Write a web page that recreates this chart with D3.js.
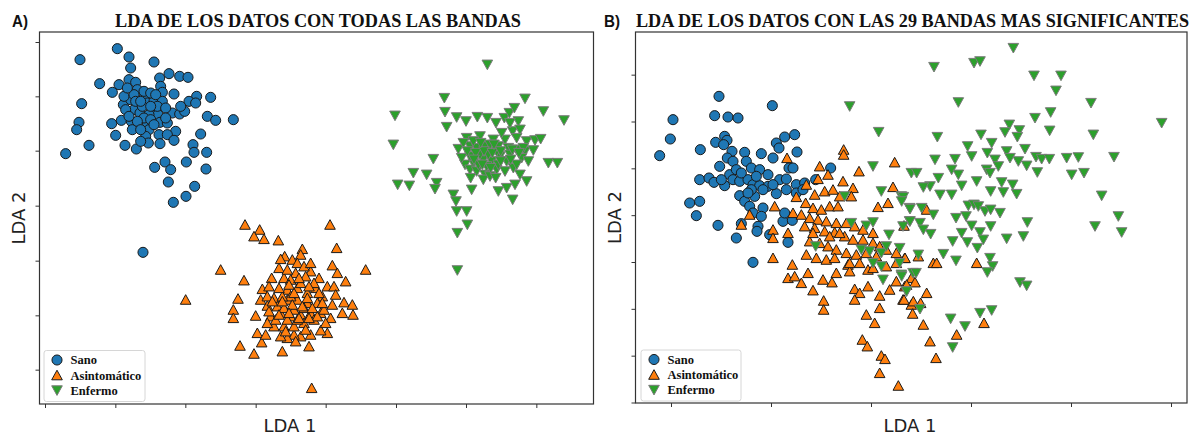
<!DOCTYPE html>
<html>
<head>
<meta charset="utf-8">
<script src="https://cdn.jsdelivr.net/npm/d3@7"></script>
<style>
  body { margin: 0; background: #fff; }
  svg { display: block; }
</style>
</head>
<body>
<div id="chart"></div>
<script>
// LDA projections, [LDA 1, LDA 2]

// ---- panel A: all bands
const sanoA = [[2.50,-0.47],[1.38,-0.80],[2.85,-0.72],[3.60,-0.87],[2.90,-1.05],[1.97,-1.52],[2.55,-1.55],[2.35,-1.78],[2.85,-1.40],[3.05,-1.48],[3.77,-1.35],[4.05,-1.22],[4.37,-1.30],[4.62,-1.33],[3.80,-1.60],[3.85,-1.78],[4.20,-1.83],[4.88,-1.90],[5.30,-1.93],[1.43,-2.12],[2.68,-2.15],[2.90,-2.00],[3.30,-1.95],[3.40,-2.10],[3.60,-2.05],[3.85,-2.05],[4.65,-2.05],[4.85,-2.10],[3.00,-2.30],[3.18,-2.40],[3.55,-2.30],[3.72,-2.45],[4.15,-2.40],[4.37,-2.43],[4.52,-2.35],[5.20,-2.50],[5.45,-2.62],[5.98,-2.60],[1.35,-2.68],[1.28,-2.90],[2.33,-2.72],[2.62,-2.62],[2.92,-2.65],[3.40,-2.70],[3.78,-2.68],[4.00,-2.70],[3.45,-2.90],[2.95,-2.90],[4.25,-2.95],[5.00,-3.03],[2.45,-3.07],[3.35,-3.10],[3.75,-3.05],[4.00,-3.05],[4.20,-3.22],[4.77,-3.35],[1.65,-3.37],[2.73,-3.37],[3.07,-3.48],[3.43,-3.30],[3.78,-3.32],[3.20,-3.25],[0.95,-3.62],[4.80,-3.58],[5.18,-3.58],[3.62,-4.03],[3.93,-3.87],[4.10,-4.10],[4.57,-3.87],[5.16,-4.08],[4.03,-4.47],[4.82,-4.60],[4.18,-5.08],[4.56,-4.90],[3.27,-6.58],[2.70,-1.90],[3.10,-1.70],[3.30,-1.75],[3.50,-1.80],[3.65,-1.85],[3.00,-1.85],[3.45,-2.45],[3.30,-2.55],[3.50,-2.60],[3.10,-2.65],[3.60,-2.75],[3.20,-2.90],[4.40,-2.20],[2.80,-1.65],[2.75,-2.30],[3.05,-2.05],[3.25,-2.20],[3.70,-2.20],[3.95,-2.25],[2.85,-2.50],[3.95,-2.55],[3.20,-2.05],[3.50,-2.20]];

const asintoA = [[6.33,-5.75],[6.77,-5.90],[6.60,-6.10],[6.90,-6.18],[7.33,-6.22],[8.88,-5.75],[9.08,-6.45],[8.05,-6.48],[7.52,-6.70],[7.75,-6.80],[7.40,-6.78],[8.00,-6.65],[7.90,-6.90],[5.60,-7.10],[6.30,-7.42],[4.55,-8.00],[9.95,-7.10],[8.95,-6.97],[9.10,-7.20],[9.35,-7.45],[7.13,-7.35],[7.50,-7.35],[7.85,-7.20],[8.30,-7.15],[8.55,-7.35],[8.80,-7.60],[6.85,-7.68],[6.12,-7.97],[5.98,-8.30],[5.98,-8.55],[6.65,-8.48],[7.00,-8.18],[7.20,-7.95],[7.60,-7.70],[7.90,-7.65],[8.20,-7.80],[8.45,-7.65],[8.65,-7.90],[9.00,-7.60],[9.05,-7.85],[9.30,-8.08],[9.55,-8.15],[9.57,-8.45],[9.25,-8.40],[8.90,-8.55],[8.80,-9.00],[8.60,-8.92],[8.30,-9.05],[8.00,-9.10],[7.80,-9.05],[7.60,-9.15],[7.40,-9.10],[7.45,-9.55],[6.70,-9.00],[6.83,-9.28],[6.18,-9.38],[6.60,-9.62],[8.25,-9.40],[8.33,-10.65],[7.10,-8.50],[7.40,-8.40],[7.70,-8.50],[8.00,-8.45],[8.30,-8.40],[8.60,-8.40],[7.20,-8.80],[7.50,-8.80],[7.80,-8.80],[8.10,-8.70],[8.40,-8.60],[8.70,-8.30],[7.60,-8.00],[7.90,-8.00],[8.20,-8.10],[8.50,-8.10],[7.00,-8.70],[7.30,-8.20],[8.00,-7.50],[7.70,-7.40],[8.40,-7.50],[7.35,-7.05],[8.10,-7.00],[7.60,-7.10],[7.80,-8.30],[7.50,-8.25],[8.10,-8.25],[7.60,-8.60],[7.25,-8.60],[7.90,-8.60],[6.80,-8.00],[7.00,-7.90],[8.65,-8.10],[8.95,-8.15],[8.15,-7.30],[8.30,-6.90],[7.70,-7.90],[7.45,-7.90],[8.20,-7.95],[7.80,-7.80],[8.50,-8.50],[8.75,-8.70],[7.05,-7.60],[7.35,-7.65],[7.65,-7.55],[7.95,-7.35],[8.25,-7.60],[8.55,-7.80],[7.15,-8.05],[7.45,-8.05],[7.75,-8.15],[8.05,-8.20],[8.35,-8.25],[7.35,-8.45],[7.65,-8.40],[7.95,-8.55],[8.25,-8.55],[7.05,-8.35],[7.55,-8.95],[7.85,-9.25],[8.15,-8.90],[6.95,-9.05]];

const enfermoA = [[13.60,-0.95],[12.31,-1.95],[14.73,-1.97],[10.83,-2.48],[12.33,-2.37],[12.68,-2.53],[12.96,-2.65],[13.30,-2.52],[13.60,-2.55],[13.86,-2.70],[14.11,-2.55],[14.26,-2.40],[14.41,-2.25],[14.53,-2.65],[15.28,-2.35],[15.90,-2.62],[12.38,-2.82],[10.78,-3.35],[12.98,-3.15],[13.38,-3.10],[13.78,-3.20],[14.13,-3.20],[14.36,-2.95],[14.58,-2.90],[14.78,-3.25],[15.03,-3.22],[15.20,-3.18],[12.73,-3.48],[13.08,-3.40],[13.28,-3.45],[13.53,-3.40],[13.68,-3.35],[13.93,-3.40],[14.23,-3.45],[14.48,-3.50],[14.73,-3.55],[14.98,-3.52],[11.98,-3.78],[12.93,-3.95],[13.18,-3.90],[13.48,-3.80],[13.73,-3.85],[13.98,-3.70],[14.18,-3.85],[14.63,-3.75],[14.83,-3.85],[15.43,-3.90],[15.70,-3.90],[11.38,-4.20],[11.78,-4.25],[12.08,-4.50],[10.91,-4.55],[11.26,-4.58],[12.03,-4.68],[13.08,-4.10],[13.28,-4.15],[13.53,-4.25],[13.88,-4.10],[14.13,-4.15],[14.38,-4.05],[14.58,-4.25],[14.78,-4.45],[13.13,-4.70],[13.93,-4.75],[14.18,-4.65],[14.43,-4.55],[14.36,-5.00],[12.58,-4.85],[12.66,-5.05],[12.68,-5.35],[12.98,-5.35],[13.00,-5.75],[12.70,-6.00],[12.70,-7.12],[13.48,-4.40],[13.68,-4.30],[13.08,-3.70],[13.38,-3.65],[13.63,-3.65],[13.88,-3.55],[14.28,-3.65],[12.88,-3.30],[13.18,-3.25],[14.03,-3.00],[14.28,-2.70],[14.48,-3.15],[14.68,-3.45],[13.58,-4.00],[13.33,-3.95],[12.83,-3.75],[13.93,-3.95],[14.48,-3.95],[13.00,-3.55],[13.25,-3.60],[13.50,-3.55],[13.75,-3.60],[14.00,-3.55],[14.35,-3.50],[13.20,-3.80],[13.45,-3.95],[13.70,-4.05],[14.00,-3.85],[14.30,-3.80],[13.10,-4.35],[13.85,-4.35],[14.55,-3.60],[13.40,-3.30],[13.80,-3.35]];

const ticksAx = [0.33, 2.44, 4.54, 6.65, 8.75, 10.86, 12.96, 15.07];
const ticksAy = [-0.27, -1.90, -3.53, -5.18, -6.83, -8.47, -10.10];

// ---- panel B: 29 most significant bands
const sanoB = [[2.58,-1.90],[1.20,-2.60],[2.45,-2.48],[2.85,-2.52],[3.15,-2.55],[4.18,-2.18],[1.12,-3.18],[0.80,-3.68],[2.02,-3.50],[2.48,-3.28],[2.75,-3.10],[2.82,-3.22],[2.72,-3.35],[2.97,-3.55],[3.35,-3.58],[3.85,-3.62],[4.30,-3.30],[4.55,-3.12],[4.85,-3.05],[4.92,-3.57],[4.20,-3.75],[4.38,-3.45],[2.83,-3.75],[3.00,-3.85],[2.60,-4.00],[3.40,-3.85],[3.55,-4.05],[3.80,-4.10],[4.05,-4.25],[4.68,-4.05],[4.80,-4.05],[2.00,-4.40],[2.28,-4.35],[2.43,-4.48],[2.75,-4.58],[2.90,-4.25],[3.00,-4.40],[3.20,-4.45],[3.45,-4.40],[3.60,-4.55],[3.80,-4.58],[4.05,-4.60],[4.40,-4.40],[4.60,-4.38],[4.90,-4.55],[5.15,-4.50],[5.48,-4.40],[5.93,-4.05],[1.70,-5.10],[2.00,-5.05],[1.90,-5.48],[3.20,-4.88],[3.35,-5.05],[3.50,-5.20],[3.65,-4.90],[3.90,-5.25],[4.30,-4.82],[4.60,-4.70],[2.55,-5.77],[3.10,-6.15],[3.25,-5.72],[3.75,-5.80],[3.72,-5.95],[4.10,-6.05],[4.50,-5.65],[4.65,-6.28],[4.78,-5.62],[3.60,-6.88],[3.60,-5.40],[3.85,-5.50],[4.55,-5.40],[4.90,-4.80],[5.10,-4.70],[3.55,-4.70],[2.65,-4.40],[3.10,-4.10],[3.25,-4.20],[3.70,-4.30],[3.45,-4.80],[3.90,-4.70],[4.20,-4.55]];

const asintoB = [[6.32,-3.50],[6.32,-3.65],[4.62,-3.75],[7.85,-3.88],[6.78,-4.15],[5.60,-4.00],[5.85,-4.25],[5.55,-4.38],[5.20,-4.55],[6.30,-4.45],[6.60,-4.65],[7.80,-4.62],[7.65,-5.10],[7.35,-5.22],[5.45,-4.85],[5.75,-4.75],[6.00,-4.70],[6.20,-4.90],[6.55,-4.90],[4.90,-4.92],[4.25,-5.20],[3.50,-5.45],[3.25,-5.75],[4.20,-5.90],[4.20,-6.15],[4.65,-6.00],[5.18,-5.10],[5.40,-5.25],[5.65,-5.30],[5.90,-5.20],[6.15,-5.20],[4.80,-5.40],[5.05,-5.45],[5.30,-5.55],[5.55,-5.60],[5.80,-5.65],[6.10,-5.70],[6.40,-5.70],[6.65,-5.80],[6.90,-5.90],[5.15,-5.80],[5.45,-5.85],[5.75,-5.95],[6.05,-5.98],[6.35,-6.10],[6.60,-6.20],[6.90,-6.20],[7.20,-6.30],[7.40,-6.40],[7.60,-6.50],[5.30,-6.25],[5.60,-6.30],[5.85,-6.40],[6.10,-6.50],[6.40,-6.60],[6.70,-6.65],[7.00,-6.60],[7.30,-6.70],[7.90,-6.60],[8.15,-6.75],[5.20,-6.65],[5.50,-6.75],[5.80,-6.80],[6.05,-6.75],[6.45,-6.95],[6.80,-6.90],[7.05,-7.10],[7.20,-7.05],[7.60,-7.00],[7.90,-6.90],[4.20,-6.75],[4.78,-6.95],[4.65,-7.35],[4.85,-7.30],[5.05,-7.50],[5.25,-7.20],[5.40,-7.72],[5.70,-7.40],[5.97,-7.48],[6.10,-7.20],[6.50,-7.15],[6.65,-7.68],[6.80,-7.80],[7.05,-7.60],[7.40,-7.88],[7.70,-7.70],[7.90,-7.45],[8.15,-7.60],[8.35,-7.35],[8.10,-8.00],[8.35,-8.15],[6.65,-8.00],[7.00,-8.45],[7.40,-8.25],[7.25,-8.70],[5.72,-8.03],[5.72,-8.30],[6.88,-9.20],[7.03,-9.40],[7.45,-9.68],[7.56,-9.78],[7.40,-10.20],[7.96,-10.58],[6.50,-6.90],[7.20,-6.00],[5.40,-6.00],[5.90,-6.10],[6.20,-6.00],[8.81,-5.30],[8.13,-5.78],[8.16,-6.75],[8.56,-6.70],[9.01,-6.90],[9.11,-6.90],[10.31,-6.90],[8.46,-7.48],[8.21,-7.55],[8.81,-7.80],[8.13,-8.00],[8.41,-8.05],[8.63,-8.10],[8.39,-8.42],[8.71,-8.75],[9.71,-9.05],[10.53,-8.70],[8.91,-9.25],[9.09,-9.75]];

const enfermoB = [[6.50,-2.20],[7.37,-2.97],[7.20,-4.00],[7.45,-4.75],[8.05,-4.90],[8.30,-5.25],[6.35,-4.90],[6.55,-5.70],[7.00,-5.78],[7.20,-5.68],[7.68,-6.05],[8.10,-5.80],[8.30,-5.65],[6.85,-6.50],[7.10,-6.55],[7.45,-6.60],[7.60,-6.40],[8.00,-6.90],[7.45,-7.00],[7.50,-7.40],[8.05,-7.25],[8.20,-7.75],[5.48,-6.40],[8.40,-7.20],[8.00,-6.45],[7.20,-6.90],[8.35,-4.20],[11.41,-0.45],[9.03,-1.02],[10.23,-0.90],[10.41,-0.85],[12.03,-1.28],[12.84,-1.28],[12.69,-1.73],[9.76,-2.08],[13.74,-2.10],[12.53,-2.38],[12.06,-2.55],[15.86,-2.70],[11.29,-2.75],[11.16,-2.98],[11.59,-2.92],[12.50,-2.93],[13.81,-3.05],[9.13,-3.12],[10.44,-3.05],[11.53,-3.12],[10.76,-3.30],[10.04,-3.40],[11.21,-3.55],[11.76,-3.48],[10.16,-3.70],[9.06,-3.80],[9.66,-3.78],[10.63,-3.60],[10.86,-3.80],[11.31,-3.75],[11.56,-3.85],[12.09,-3.72],[12.26,-3.78],[12.49,-3.78],[13.01,-3.75],[13.36,-3.73],[14.43,-3.72],[8.51,-4.20],[9.56,-4.10],[9.76,-4.25],[10.61,-4.10],[10.71,-4.20],[10.96,-4.00],[11.81,-3.98],[12.13,-4.18],[13.16,-4.25],[13.53,-4.20],[9.16,-4.35],[8.91,-4.60],[8.71,-4.63],[9.86,-4.58],[10.31,-4.45],[11.06,-4.48],[11.39,-4.55],[10.73,-4.75],[11.11,-4.78],[11.51,-4.83],[9.21,-4.85],[9.56,-4.85],[14.06,-4.88],[8.11,-4.92],[8.06,-5.05],[8.31,-5.28],[8.66,-5.25],[9.01,-5.45],[10.06,-5.18],[10.23,-5.15],[10.36,-5.20],[10.56,-5.35],[10.73,-5.30],[11.01,-5.40],[9.69,-5.55],[9.99,-5.50],[8.31,-5.65],[8.61,-5.70],[8.71,-5.90],[8.93,-6.03],[10.16,-5.78],[10.41,-5.98],[10.73,-5.80],[9.86,-6.00],[9.59,-6.25],[10.03,-6.28],[10.51,-6.20],[11.21,-6.17],[11.71,-6.10],[11.83,-5.68],[14.56,-5.50],[13.86,-5.80],[14.66,-5.98],[9.31,-6.63],[9.69,-6.83],[10.33,-6.45],[10.71,-6.75],[10.79,-7.00],[10.63,-7.18],[8.56,-6.65],[8.49,-7.20],[8.06,-7.30],[8.21,-7.75],[8.61,-8.28],[9.53,-8.57],[9.96,-8.80],[10.41,-8.40],[10.76,-8.32],[11.61,-7.48],[11.81,-7.58],[9.59,-9.43]];

const ticksBx = [1.14, 4.14, 7.14, 10.14, 13.14, 16.14];
const ticksBy = [-1.25, -2.655, -4.06, -5.465, -6.87, -8.275, -9.68, -11.085];

const classes = ['Sano', 'Asintomático', 'Enfermo'];

const width = 1198, height = 439;
const svg = d3.select('#chart').append('svg')
    .attr('width', width)
    .attr('height', height);

const colors = { Sano: '#1f77b4', 'Asintomático': '#ff7f0e', Enfermo: '#2ca02c' };
const edges = { Sano: '#1a1a1a', 'Asintomático': '#1a1a1a', Enfermo: '#7a7a7a' };
const shapes = {
    Sano: d3.symbol(d3.symbolCircle, 80)(),
    'Asintomático': 'M0,-5L-5.3,4.6L5.3,4.6Z',
    Enfermo: 'M0,5L-5.3,-4.6L5.3,-4.6Z'
};

const serif = '"Liberation Serif", "Times New Roman", serif';
const sans = '"DejaVu Sans", sans-serif';

const drawPanel = (cfg) => {
    const { left, right, top, bottom } = cfg.box
    const x = d3.scaleLinear().domain(cfg.xDomain).range([left, right])
    const y = d3.scaleLinear().domain(cfg.yDomain).range([bottom, top])

    const g = svg.append('g')

    g.append('g')
        .attr('transform', `translate(0,${bottom})`)
        .call(d3.axisBottom(x).tickValues(cfg.xTicks).tickFormat('').tickSize(4).tickSizeOuter(0))
        .call(a => a.select('.domain').remove())
        .call(a => a.selectAll('line').attr('stroke', '#333'))
    g.append('g')
        .attr('transform', `translate(${left},0)`)
        .call(d3.axisLeft(y).tickValues(cfg.yTicks).tickFormat('').tickSize(4).tickSizeOuter(0))
        .call(a => a.select('.domain').remove())
        .call(a => a.selectAll('line').attr('stroke', '#333'))

    const sets = [cfg.sano, cfg.asinto, cfg.enfermo]
    sets.forEach((pts, i) => {
        const c = classes[i]
        g.append('g').selectAll('path')
            .data(pts)
            .join('path')
            .attr('d', shapes[c])
            .attr('transform', d => `translate(${x(d[0])},${y(d[1])})`)
            .attr('fill', colors[c])
            .attr('stroke', edges[c])
            .attr('stroke-width', 1)
    })

    g.append('rect')
        .attr('x', left).attr('y', top)
        .attr('width', right - left).attr('height', bottom - top)
        .attr('fill', 'none')
        .attr('stroke', '#333')
        .attr('stroke-width', 1.2)

    // legend
    const lg = g.append('g').attr('transform', `translate(${cfg.legend[0]},${cfg.legend[1]})`)
    lg.append('rect')
        .attr('width', cfg.legendW).attr('height', 51)
        .attr('rx', 2.5)
        .attr('fill', '#fff').attr('fill-opacity', 0.85)
        .attr('stroke', '#d6d6d6')
    classes.forEach((c, i) => {
        lg.append('path')
            .attr('d', shapes[c])
            .attr('transform', `translate(13,${9.5 + i * 15.2})`)
            .attr('fill', colors[c])
            .attr('stroke', edges[c])
        lg.append('text')
            .attr('x', 26.5).attr('y', 9.5 + i * 15.2)
            .attr('dy', '0.35em')
            .attr('font-family', serif)
            .attr('font-weight', 'bold')
            .attr('font-size', 12.5)
            .attr('fill', '#111')
            .text(c)
    })

    svg.append('text')
        .attr('x', cfg.titleX).attr('y', 27)
        .attr('font-family', serif)
        .attr('font-weight', 'bold')
        .attr('font-size', 18.5)
        .attr('fill', '#111')
        .attr('textLength', cfg.titleW)
        .attr('lengthAdjust', 'spacingAndGlyphs')
        .text(cfg.title)
    svg.append('text')
        .attr('x', cfg.tagX).attr('y', 27)
        .attr('font-family', '"Liberation Sans", Arial, sans-serif')
        .attr('font-weight', 'bold')
        .attr('font-size', 16)
        .attr('fill', '#111')
        .attr('textLength', 16)
        .attr('lengthAdjust', 'spacingAndGlyphs')
        .text(cfg.tag)

    svg.append('text')
        .attr('x', cfg.xLabelX).attr('y', 432)
        .attr('text-anchor', 'middle')
        .attr('font-family', sans)
        .attr('font-size', 18)
        .attr('fill', '#222')
        .text('LDA 1')
    svg.append('text')
        .attr('transform', `translate(${left - 15},${(top + bottom) / 2}) rotate(-90)`)
        .attr('text-anchor', 'middle')
        .attr('font-family', sans)
        .attr('font-size', 18)
        .attr('fill', '#222')
        .text('LDA 2')
}

drawPanel({
    box: { left: 39.5, right: 593.5, top: 32, bottom: 404 },
    xDomain: [0.165, 16.785], yDomain: [-11.13, 0.03],
    xTicks: ticksAx, yTicks: ticksAy,
    sano: sanoA, asinto: asintoA, enfermo: enfermoA,
    title: 'LDA DE LOS DATOS CON TODAS LAS BANDAS', titleX: 115, titleW: 406,
    tag: 'A)', tagX: 12,
    legend: [44, 350.5], legendW: 101, xLabelX: 290
})

drawPanel({
    box: { left: 635.5, right: 1187, top: 32, bottom: 403 },
    xDomain: [0.075, 16.62], yDomain: [-11.10, 0.03],
    xTicks: ticksBx, yTicks: ticksBy,
    sano: sanoB, asinto: asintoB, enfermo: enfermoB,
    title: 'LDA DE LOS DATOS CON LAS 29 BANDAS MAS SIGNIFICANTES', titleX: 636, titleW: 553,
    tag: 'B)', tagX: 604,
    legend: [641, 350], legendW: 100, xLabelX: 910
})
</script>
</body>
</html>
